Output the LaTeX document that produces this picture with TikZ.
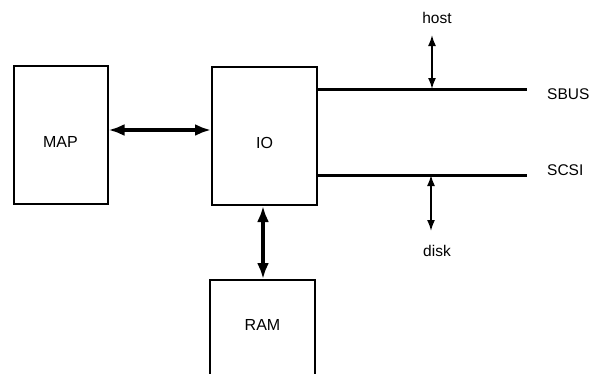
\documentclass[tikz,border=0pt]{standalone}
\usepackage{fontspec}
\setmainfont{Liberation Sans}
\usetikzlibrary{arrows.meta}
\newcommand{\shifttext}[2]{\raisebox{#1}[\height][\depth]{#2}}
\begin{document}
\begin{tikzpicture}[x=1pt,y=1pt,
  box/.style={draw,line width=2pt,inner sep=0pt,font=\fontsize{16}{18}\selectfont},
  lbl/.style={inner sep=1pt,font=\fontsize{15.5}{18}\selectfont},
  bigarrow/.style={line width=3.4pt,{Latex[length=16pt,width=12pt]}-{Latex[length=16pt,width=12pt]}},
  smallarrow/.style={line width=1.7pt,{Latex[length=11pt,width=8pt]}-{Latex[length=11pt,width=8pt]}},
  bus/.style={line width=3pt}]
\useasboundingbox (0,0) rectangle (592,-373);
\clip (0,0) rectangle (592,-373);
\fill[white] (0,0) rectangle (592,-373);
\node[box,minimum width=94,minimum height=138] (map) at (60.5,-134.5) {\shifttext{-7.5pt}{MAP}};
\node[box,minimum width=105,minimum height=138] (io) at (264.5,-136) {\shifttext{-7pt}{IO}};
\node[box,minimum width=105,minimum height=110] (ram) at (262.5,-335) {\shifttext{10pt}{RAM}};
\coordinate (sbusend) at (527,-89);
\coordinate (scsiend) at (527,-175);
\coordinate (hostpt) at (432,-89);
\coordinate (hosttop) at (432,-35);
\coordinate (diskpt) at (431,-175);
\coordinate (diskbot) at (431,-231);
\draw[bus] (io.east |- sbusend) -- (sbusend);
\draw[bus] (io.east |- scsiend) -- (scsiend);
\node[lbl,anchor=west] (sbus) at (546,-94) {SBUS};
\node[lbl,anchor=west] (scsi) at (546,-170) {SCSI};
\node[lbl] (host) at (437,-18) {host};
\node[lbl] (disk) at (437,-251) {disk};
\draw[smallarrow] (hosttop) -- (hostpt);
\draw[smallarrow] (diskpt) -- (diskbot);
\draw[bigarrow] (map.east |- 0,-130) -- (io.west |- 0,-130);
\draw[bigarrow] (io.south -| 263,0) -- (ram.north -| 263,0);
\end{tikzpicture}
\end{document}
